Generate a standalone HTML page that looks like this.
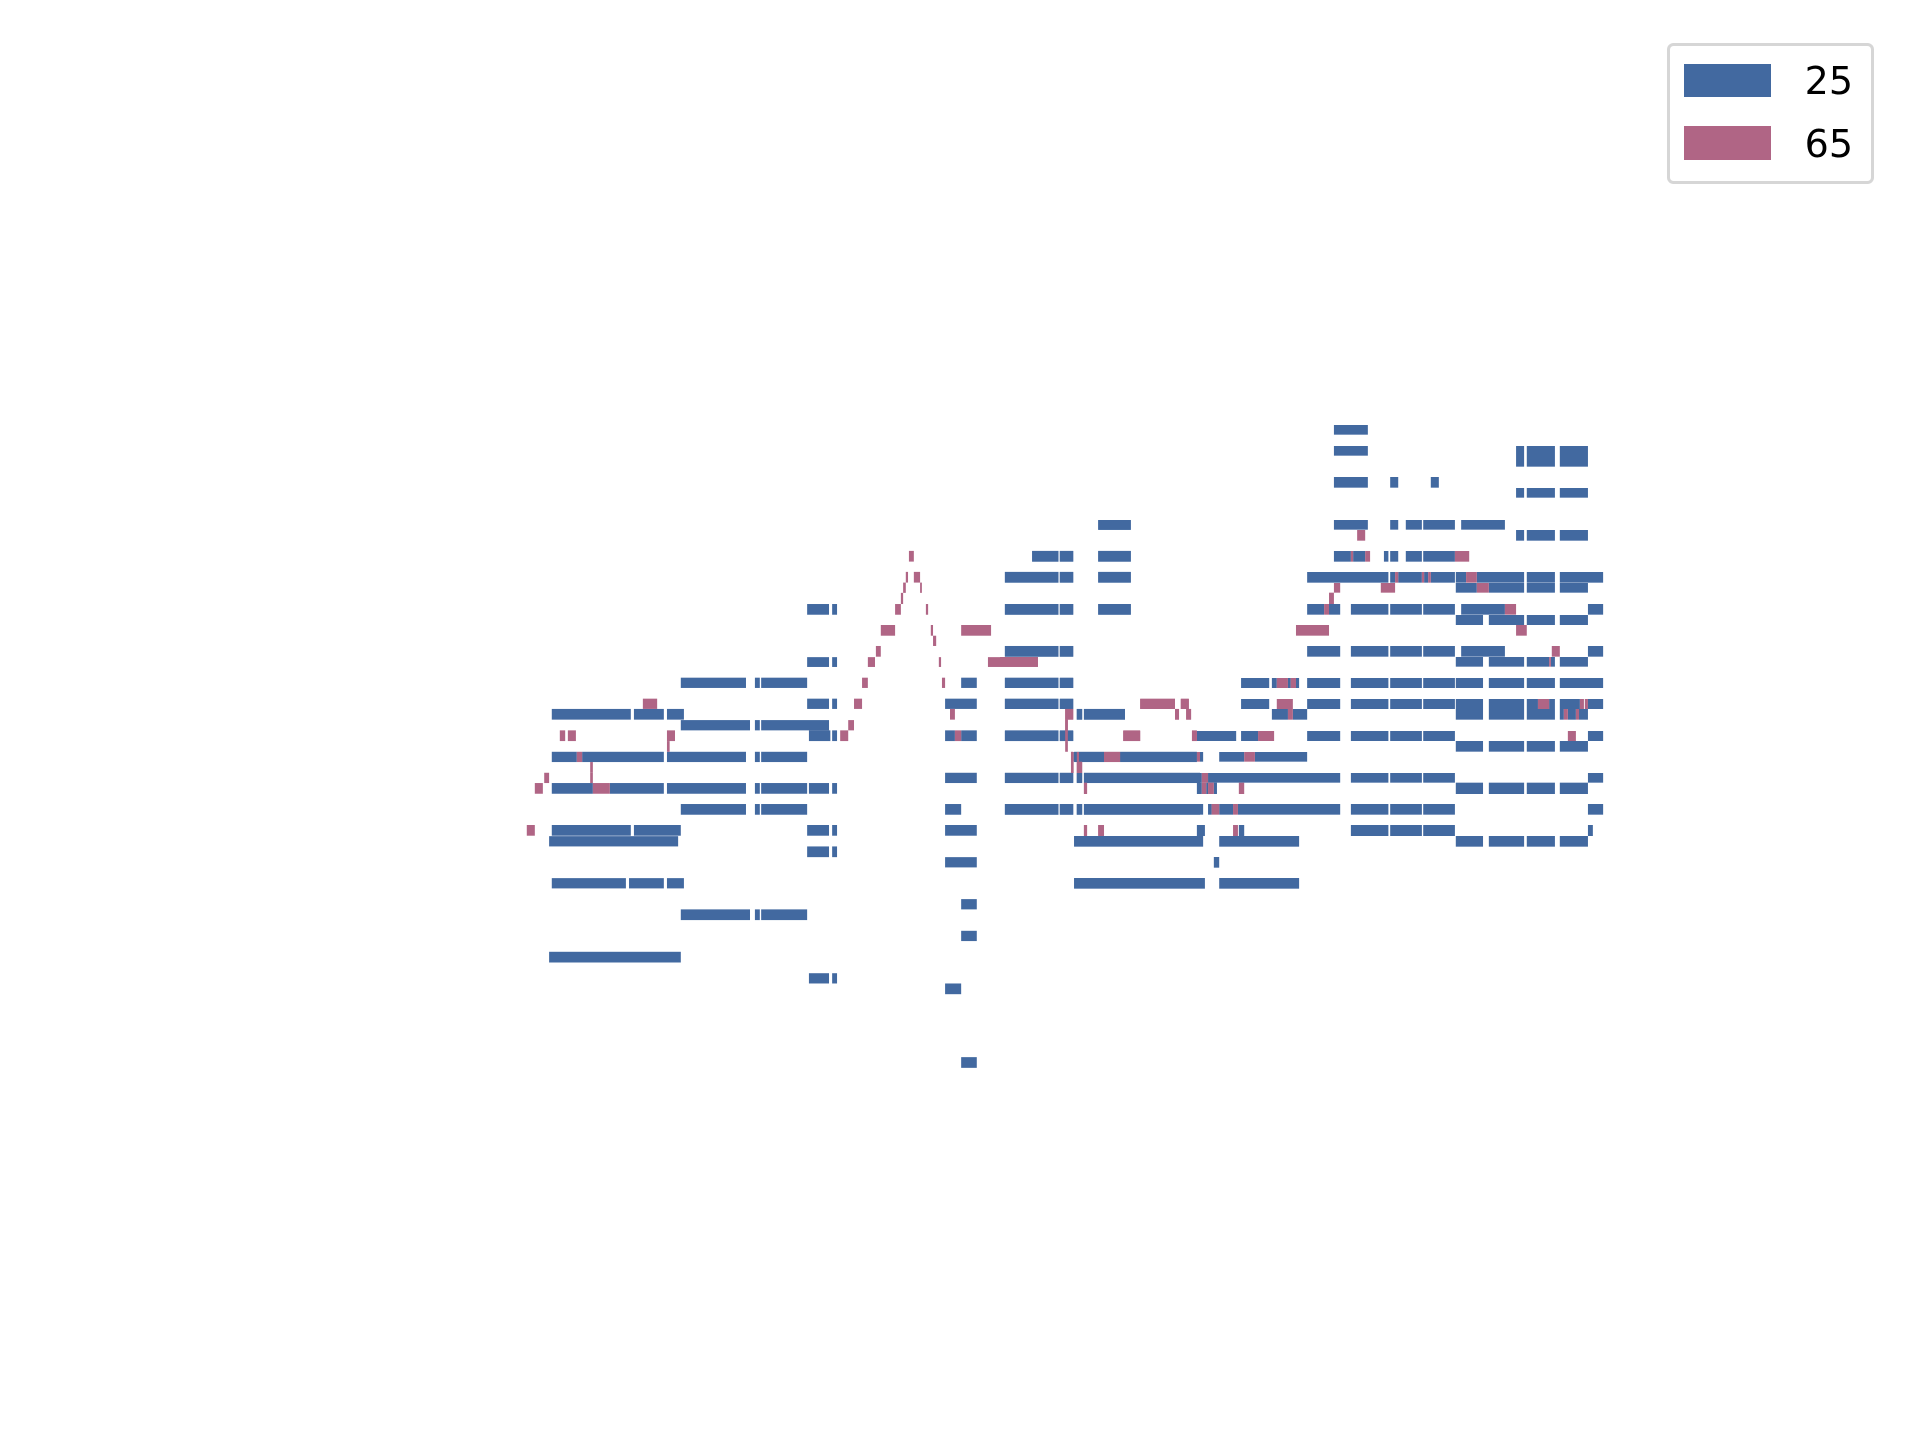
<!DOCTYPE html>
<html><head><meta charset="utf-8">
<style>
html,body{margin:0;padding:0;background:#fff;}
#wrap{position:relative;width:1920px;height:1440px;overflow:hidden;}
svg{position:absolute;left:0;top:0;}
</style></head>
<body>
<div id="wrap">
<svg id="chart" width="1920" height="1440">
 <g id="marks"></g>
 <g>
  <rect x="1668.5" y="44.5" width="204" height="138" rx="5" ry="5" fill="#fff" stroke="#d6d6d6" stroke-width="3"/>
  <rect x="1684" y="64" width="87" height="33" fill="#4269a0"/>
  <text x="1853" y="94" font-family="DejaVu Sans, Liberation Sans, sans-serif" font-size="38" text-anchor="end" fill="#000">25</text>
  <rect x="1684" y="126" width="87" height="34" fill="#b06585"/>
  <text x="1853" y="157" font-family="DejaVu Sans, Liberation Sans, sans-serif" font-size="38" text-anchor="end" fill="#000">65</text>
 </g>
</svg>
</div>
<script>
// Segment data: "start-end,start-end@low-high" in chart units
const seriesLeft25 = [
"116-293,300-367,374-412@692-716",
"116-172,184-367,374-551,571-582,585-688@788-811",
"116-208,246-367,374-551,571-582,585-688,692-737,744-755@858-882",
"116-293,300-405,688-737,744-755,997-1068@952-976",
"110-399,1286-1568@977-1000",
"116-282,289-367,374-412,1286-1568@1071-1094",
"110-405@1236-1260",
"405-551,571-582,585-688,1033-1068,1131-1251,1254-1284@622-645",
"405-560,571-582,585-737@717-740",
"405-551,571-582,585-688,997-1033,1131-1251,1254-1284,1292-1304,1308-1568@905-929",
"405-560,571-582,585-688@1141-1165",
"688-737,744-755,1131-1251,1254-1284,1340-1413@457-481",
"688-737,744-755@576-598",
"688-737,744-755,997-1068,1131-1251,1254-1284@669-692",
"692-740,744-755,997-1019,1033-1068,1131-1251,1254-1284@740-764",
"688-737,744-755@1000-1024",
"997-1068@1024-1047",
"692-737,744-755@1284-1307",
"997-1068,1131-1251,1254-1284,1292-1304,1308-1568@835-858",
"1033-1068@1118-1141",
"1033-1068@1189-1212",
"997-1033@1307-1331",
"1033-1068@1472-1496",
"1192-1251,1254-1284,1340-1413@338-362",
"1131-1251,1254-1284,1340-1413@385-409",
"1131-1251,1254-1284@551-575",
"1340-1413@269-291",
"1292-1304,1308-1400@692-716",
"1286-1353,1389-1561@788-811"
];
const seriesLeft65 = [
"320-352,793-811,1434-1512,1525-1543@669-692",
"134-146,152-170,374-392,762-780,1019-1033,1396-1434,1550-1561@740-764",
"374-380,1266-1272@764-788",
"172-184,1353-1389@788-811",
"202-208,1279-1284,1292-1304@811-835",
"202-208,99-110@835-858",
"78-96,208-246,1308-1315@858-882",
"60-78,1308-1315,1340-1353@952-976",
"916-927@338-362",
"909-914,927-941@385-409",
"903-909,941-945@409-432",
"898-903@432-457",
"885-898,954-959@457-481",
"853-885,965-970,1033-1100@504-528",
"970-977@528-551",
"842-853@551-575",
"824-840,983-988,1093-1205@576-598",
"811-824,990-997@622-645",
"780-793@717-740",
"1008-1019,1512-1521,1537-1548,1266-1284@692-716",
"1266-1272@716-740",
"1279-1284@788-811"
];
const seriesRight25 = [
"748-824@75-104",
"748-824@138-167",
"1156-1174,1180-1243,1254-1317@138-200",
"748-824,874-892,965-983@231-263",
"1156-1174,1180-1243,1254-1317@264-293",
"220-293,748-824,874-892,909-945,948-1019,1033-1131@360-389",
"1156-1174,1180-1243,1254-1317@390-422",
"72-131,134-164,220-293,748-786,791-818,860-870,874-892,909-945,948-1019@453-485",
"11-131,134-164,220-293,688-870,874-885,892-945,950-959,965-1019,1021-1044,1068-1174,1180-1243,1254-1351@516-548",
"1021-1068,1095-1174,1180-1243,1254-1317@549-578",
"11-131,134-164,220-293,688-726,737-762,786-870,874-945,948-1019,1033-1131,1317-1351@612-644",
"1021-1082,1095-1174,1180-1243,1254-1317@645-675",
"11-131,134-164,688-762,786-870,874-945,948-1019,1033-1131,1317-1351@738-770",
"1021-1082,1095-1174,1180-1230,1234-1243,1254-1317@771-800",
"11-131,134-164,540-603,609-620,645-651,663-670,688-762,786-870,874-945,948-1019,1021-1082,1095-1174,1180-1243,1254-1351@834-864",
"11-131,134-164,540-603,688-762,786-870,874-945,948-1019,1021-1082,1095-1174,1180-1205,1230-1243,1254-1299,1317-1351@897-927",
"172-184,188-280,609-645,656-688,1021-1082,1095-1174,1180-1243,1254-1263,1272-1290,1297-1317@927-959",
"11-131,134-146,152-164,441-529,540-578,688-762,786-870,874-945,948-1019,1317-1351@993-1023",
"1021-1082,1095-1174,1180-1243,1254-1317@1023-1055",
"165-172,177-233,269-441,448-455,491-547,571-688@1056-1085",
"11-131,134-164,172-184,188-452,466-762,786-870,874-945,948-1019,1317-1351@1119-1148",
"441-452,462-466,479-486,1021-1082,1095-1174,1180-1243,1254-1317@1148-1182",
"11-131,134-164,172-184,188-455,466-474,491-522,533-762,786-870,874-945,948-1019,1317-1351@1212-1244",
"441-459,535-547,786-870,874-945,948-1019,1317-1328@1275-1308",
"166-455,491-670,1021-1082,1095-1174,1180-1243,1254-1317@1308-1340",
"479-491@1371-1403",
"166-459,491-670@1434-1466"
];
const seriesRight65 = [
"800-818@390-422",
"786-791,818-829,1019-1051@453-485",
"885-892,945-950,959-965,1044-1068@516-548",
"748-762,853-885,1068-1095@549-578",
"737-748@578-612",
"726-737,1131-1156@612-644",
"663-737,1156-1180@675-707",
"1236-1254@738-770",
"0-85,1230-1234@771-800",
"620-645,651-663@834-864",
"314-392,405-423,620-656,1205-1230,1299-1308,1310-1317@897-927",
"146-164,392-401,417-428,645-656,1263-1272,1290-1297@927-959",
"146-152@959-993",
"146-152,276-314,430-441,578-614,1272-1290@993-1023",
"159-165,172-177,233-269,441-448,547-571@1056-1085",
"159-165,172-184@1085-1119",
"452-466@1119-1148",
"188-195,452-462,466-479,535-547@1148-1182",
"474-491,522-533@1212-1244",
"188-195,220-233,522-533@1275-1308"
];
const seriesColors = {"25":"#4269a0","65":"#b06585"};

// axis functions (chart units -> px)
function xLeft(v){ return 500 + v/2.24; }
function xRight(v){ return 1000 + v/2.24; }
function yLeft(v){ return 400 + v/2.24; }
function yRight(v){ return 400 + v/3; }

const NS = "http://www.w3.org/2000/svg";
const g = document.getElementById('marks');
function draw(rows, xs, ys, key){
  rows.forEach(function(row){
    const parts = row.split('@');
    const yr = parts[1].split('-').map(Number);
    const y0 = ys(yr[0]), y1 = ys(yr[1]);
    parts[0].split(',').forEach(function(seg){
      const xr = seg.split('-').map(Number);
      const x0 = xs(xr[0]), x1 = xs(xr[1]);
      const r = document.createElementNS(NS,'rect');
      r.setAttribute('x', x0.toFixed(2));
      r.setAttribute('y', y0.toFixed(2));
      r.setAttribute('width', Math.max(0.5, x1-x0).toFixed(2));
      r.setAttribute('height', Math.max(0.5, y1-y0).toFixed(2));
      r.setAttribute('fill', seriesColors[key]);
      
      
      g.appendChild(r);
    });
  });
}
draw(seriesLeft25, xLeft, yLeft, "25");
draw(seriesRight25, xRight, yRight, "25");
draw(seriesLeft65, xLeft, yLeft, "65");
draw(seriesRight65, xRight, yRight, "65");
</script>
</body></html>
